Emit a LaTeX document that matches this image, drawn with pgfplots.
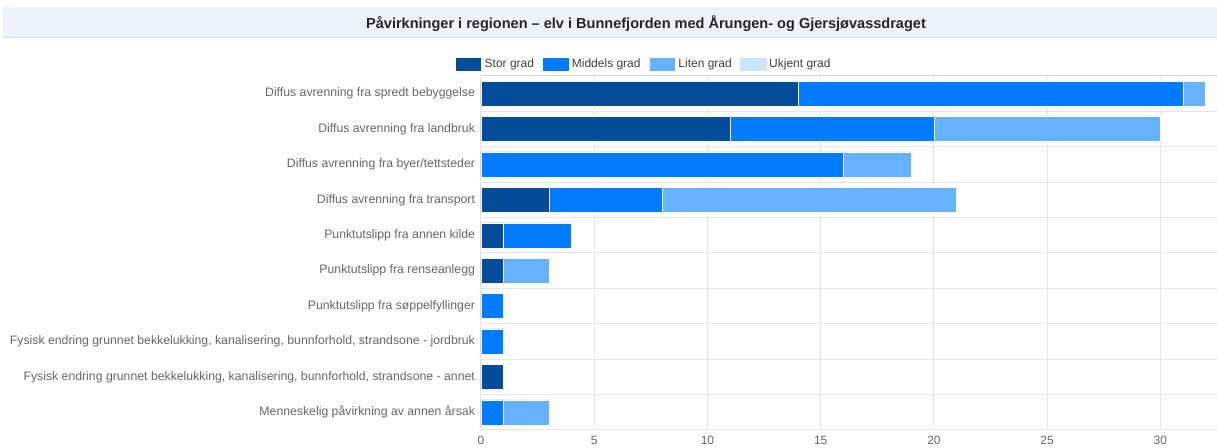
\documentclass[border=0pt]{standalone}
\usepackage{pgfplots}
\pgfplotsset{compat=1.18}
\usepackage{fontspec}
\setmainfont{Liberation Sans}
\definecolor{stor}{HTML}{024C9A}
\definecolor{middels}{HTML}{007BFF}
\definecolor{liten}{HTML}{66B2FF}
\definecolor{ukjent}{HTML}{CCE5FF}
\definecolor{titlebg}{HTML}{EEF2FD}
\definecolor{titleline}{HTML}{DCE2F2}
\definecolor{gridc}{HTML}{E6E6E6}
\definecolor{axisc}{HTML}{CCD6EB}
\definecolor{labc}{HTML}{666666}
\pgfplotstableread{
y stor middels liten
0 14 17 1
1 11 9 10
2 0 16 3
3 3 5 13
4 1 3 0
5 1 0 2
6 0 1 0
7 0 1 0
8 1 0 0
9 0 1 2
}\datatable
\begin{document}
\begin{tikzpicture}
\useasboundingbox (0pt,0pt) rectangle (912.75pt,336pt);
\fill[titlebg] (2.25pt,307.5pt) rectangle (912.75pt,330.75pt);
\draw[titleline, line width=0.75pt] (2.25pt,307.5pt) -- (912.75pt,307.5pt);
\node[font=\bfseries\fontsize{10.9}{12}\selectfont, text=black!85] at (484.5pt,318pt) {Påvirkninger i regionen – elv i Bunnefjorden med Årungen- og Gjersjøvassdraget};
\begin{axis}[
  at={(360.75pt,13.5pt)}, anchor=south west,
  scale only axis, width=552pt, height=265.5pt,
  xbar stacked, bar width=18.75pt,
  xmin=0, xmax=32.5,
  ymin=-0.5, ymax=9.5, y dir=reverse,
  ytick={0,...,9},
  yticklabels={
    Diffus avrenning fra spredt bebyggelse,
    Diffus avrenning fra landbruk,
    Diffus avrenning fra byer/tettsteder,
    Diffus avrenning fra transport,
    Punktutslipp fra annen kilde,
    Punktutslipp fra renseanlegg,
    Punktutslipp fra søppelfyllinger,
    {Fysisk endring grunnet bekkelukking, kanalisering, bunnforhold, strandsone - jordbruk},
    {Fysisk endring grunnet bekkelukking, kanalisering, bunnforhold, strandsone - annet},
    Menneskelig påvirkning av annen årsak},
  minor ytick={-0.5,0.5,...,9.5},
  ymajorgrids=false, yminorgrids=true,
  xtick={0,5,...,30}, xmajorgrids=true,
  grid style={gridc, line width=0.75pt},
  minor grid style={gridc, line width=0.75pt},
  major tick length=0pt, minor tick length=0pt,
  axis line style={draw=none},
  tick label style={font=\fontsize{9}{11}\selectfont, text=labc},
  yticklabel style={xshift=-1pt, font=\fontsize{9.2}{11}\selectfont},
  xticklabel style={yshift=-1pt},
  /pgf/number format/assume math mode=true,
  legend style={at={(0.2215,1.033)}, anchor=center, draw=none, fill=none,
    legend columns=4, font=\fontsize{9}{11}\selectfont, text=black!75,
    /tikz/every even column/.append style={column sep=4pt}},
  legend image code/.code={\fill[#1] (0pt,-5pt) rectangle (20pt,5pt);},
]
\addplot[fill=stor, draw=white, line width=0.4pt] table[x=stor, y=y] {\datatable};
\addlegendentry{Stor grad}
\addplot[fill=middels, draw=white, line width=0.4pt] table[x=middels, y=y] {\datatable};
\addlegendentry{Middels grad}
\addplot[fill=liten, draw=white, line width=0.4pt] table[x=liten, y=y] {\datatable};
\addlegendentry{Liten grad}
\addlegendimage{fill=ukjent, draw=none}
\addlegendentry{Ukjent grad}
\draw[axisc, line width=0.75pt] (rel axis cs:0,1) -- (rel axis cs:1,1);
\end{axis}
\end{tikzpicture}
\end{document}
